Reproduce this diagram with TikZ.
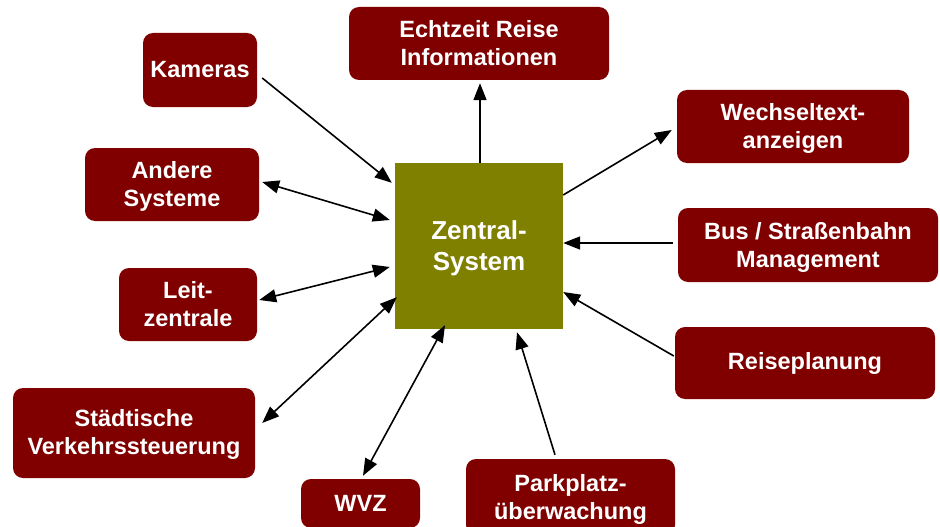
\documentclass[tikz,border=0pt]{standalone}
\usepackage{fontspec}
\setmainfont{Liberation Sans}
\usetikzlibrary{arrows.meta}
\definecolor{boxred}{HTML}{800000}
\definecolor{olivebox}{HTML}{808000}
\newcommand\twol[2]{\raisebox{-#1}[\height][\depth]{\begin{tabular}{@{}c@{}}#2\end{tabular}}}
\begin{document}
\begin{tikzpicture}[x=1pt,y=-1pt,
  sysbox/.style={fill=boxred, rounded corners=10pt, text=white, align=center,
    font=\fontsize{23.5}{28}\selectfont\bfseries, inner sep=0pt},
  centerbox/.style={fill=olivebox, text=white, align=center,
    font=\fontsize{26}{31}\selectfont\bfseries, inner sep=0pt,
    minimum width=168pt, minimum height=166pt},
  conn/.style={line width=1.6pt, -{Triangle[length=17pt,width=13pt]}},
  biconn/.style={line width=1.6pt, {Triangle[length=17pt,width=13pt]}-{Triangle[length=17pt,width=13pt]}}
]
\useasboundingbox (0,0) rectangle (940,527);
\clip (0,0) rectangle (940,527);
\fill[white] (0,0) rectangle (940,527);

\node[centerbox] (zen) at (479,246) {\twol{3pt}{Zentral-\\System}};
\node[sysbox, minimum width=114pt, minimum height=74pt] (kam) at (200,70) {Kameras};
\node[sysbox, minimum width=260pt, minimum height=73pt] (echt) at (479,43.5) {\twol{2.7pt}{Echtzeit Reise\\Informationen}};
\node[sysbox, minimum width=232pt, minimum height=73pt] (wech) at (793,126.5) {\twol{2.7pt}{Wechseltext-\\anzeigen}};
\node[sysbox, minimum width=260pt, minimum height=74pt] (bus) at (808,245) {\twol{2.7pt}{Bus / Straßenbahn\\Management}};
\node[sysbox, minimum width=174pt, minimum height=73pt] (and) at (172,184.5) {\twol{2.7pt}{Andere\\Systeme}};
\node[sysbox, minimum width=138pt, minimum height=73pt] (leit) at (188,304.5) {\twol{2.7pt}{Leit-\\zentrale}};
\node[sysbox, minimum width=242pt, minimum height=90pt] (stad) at (134,433) {\twol{2pt}{Städtische\\Verkehrssteuerung}};
\node[sysbox, minimum width=119pt, minimum height=49pt] (wvz) at (360.5,503.5) {WVZ};
\node[sysbox, minimum width=209pt, minimum height=76pt] (park) at (570.5,497) {\twol{2.7pt}{Parkplatz-\\überwachung}};
\node[sysbox, minimum width=260pt, minimum height=72pt] (reise) at (805,363) {Reiseplanung};

\draw[conn] ([shift={(5,8)}]kam.east) -- ([shift={(-3,20)}]zen.north west);
\draw[biconn] ([shift={(3,-2.5)}]and.east) -- ([shift={(-5,-26)}]zen.west);
\draw[biconn] ([shift={(2,-4.5)}]leit.east) -- ([shift={(-5,21)}]zen.west);
\draw[biconn] ([shift={(7,-10)}]stad.east) -- ([shift={(2,-32)}]zen.south west);
\draw[biconn] ([shift={(2.5,-3)}]wvz.north) -- ([shift={(-34,-4)}]zen.south);
\draw[conn] ([shift={(-15.5,-4)}]park.north) -- ([shift={(38,3)}]zen.south);
\draw[conn] ([shift={(-1,-7)}]reise.west) -- ([shift={(0,46)}]zen.east);
\draw[conn] ([shift={(-5,-2)}]bus.west) -- ([shift={(0,-3)}]zen.east);
\draw[conn] ([shift={(0,-51)}]zen.east) -- ([shift={(-5,3.5)}]wech.west);
\draw[conn] ([shift={(1,0)}]zen.north) -- ([shift={(1,3)}]echt.south);
\end{tikzpicture}
\end{document}
